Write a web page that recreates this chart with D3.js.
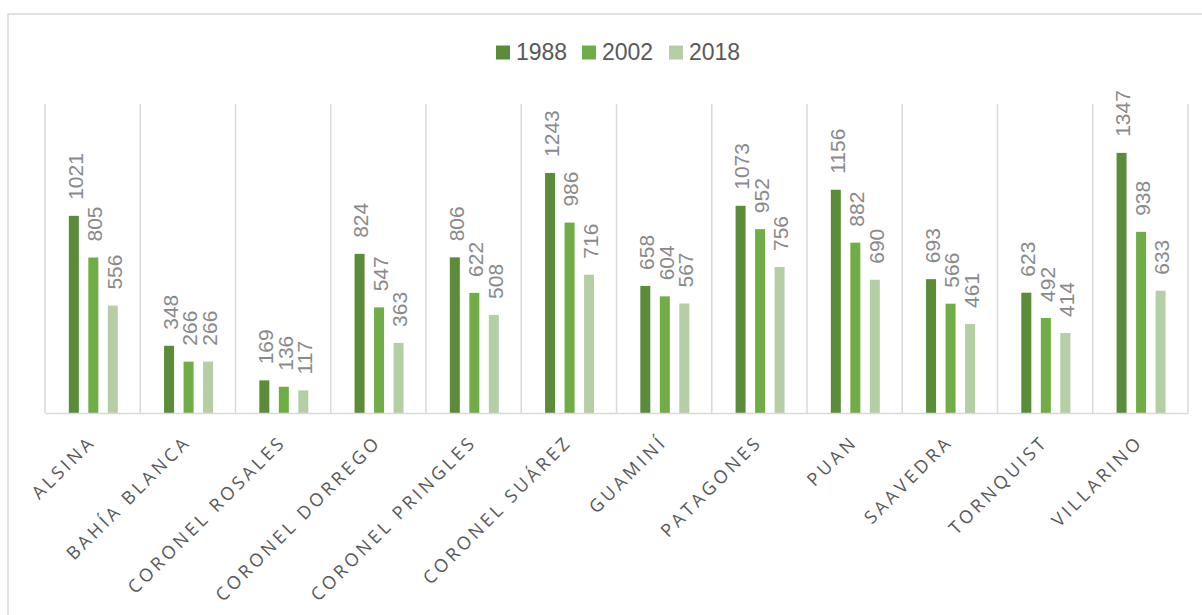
<!DOCTYPE html>
<html>
<head>
<meta charset="utf-8">
<script src="https://cdn.jsdelivr.net/npm/d3@7"></script>
<style>
  html, body { margin: 0; padding: 0; background: #fff; }
  svg { display: block; }
</style>
</head>
<body>
<svg id="chart" width="1202" height="615"></svg>
<script>
// Partidos del sudoeste bonaerense
const categories = ["ALSINA", "BAHÍA BLANCA", "CORONEL ROSALES", "CORONEL DORREGO",
  "CORONEL PRINGLES", "CORONEL SUÁREZ", "GUAMINÍ", "PATAGONES", "PUAN",
  "SAAVEDRA", "TORNQUIST", "VILLARINO"];
const years = ["1988", "2002", "2018"];
const values1988 = [1021, 348, 169, 824, 806, 1243, 658, 1073, 1156, 693, 623, 1347];
const values2002 = [805, 266, 136, 547, 622, 986, 604, 952, 882, 566, 492, 938];
const values2018 = [556, 266, 117, 363, 508, 716, 567, 756, 690, 461, 414, 633];
const colors = ["#5b8c3a", "#70ad47", "#b4cfa6"];

const series = [values1988, values2002, values2018];
const rows = categories.map((c, i) => ({
  name: c,
  bars: years.map((y, k) => ({ year: y, value: series[k][i], color: colors[k] }))
}));

const svg = d3.select("#chart");
const numFont = "'Liberation Sans Narrow', 'Liberation Sans', Arial, sans-serif";
const catFont = "'Open Sans', 'Liberation Sans', Arial, sans-serif";

// outer frame
svg.append("rect")
  .attr("x", 8).attr("y", 14).attr("width", 1220).attr("height", 640)
  .attr("fill", "none").attr("stroke", "#d9d9d9").attr("stroke-width", 1.5);

const plot = { left: 45, right: 1188, top: 104, bottom: 413 };

const x0 = d3.scaleBand().domain(categories).range([plot.left, plot.right]).padding(0);
const x1 = d3.scalePoint().domain(years).range([-19.5, 19.5]);
const y = d3.scaleLinear().domain([0, 1600]).range([plot.bottom, plot.top]);
const barW = 10;

// vertical separators between categories
const bounds = categories.map(c => x0(c)).concat([plot.right]);
svg.append("g").selectAll("line").data(bounds).join("line")
  .attr("x1", d => d).attr("x2", d => d)
  .attr("y1", plot.top).attr("y2", plot.bottom)
  .attr("stroke", "#d9d9d9").attr("stroke-width", 1.5);

// bars
const groups = svg.append("g").selectAll("g").data(rows).join("g")
  .attr("transform", d => `translate(${x0(d.name) + x0.bandwidth() / 2 + 0.7},0)`);

groups.selectAll("rect").data(d => d.bars).join("rect")
  .attr("x", d => x1(d.year) - barW / 2)
  .attr("width", barW)
  .attr("y", d => y(d.value))
  .attr("height", d => y(0) - y(d.value))
  .attr("fill", d => d.color);

// value labels, rotated
groups.selectAll("text").data(d => d.bars).join("text")
  .attr("transform", d => `translate(${x1(d.year)},${y(d.value) - 16}) rotate(-90)`)
  .attr("dy", "0.42em")
  .attr("text-anchor", "start")
  .attr("font-family", numFont)
  .attr("font-size", 21)
  .attr("fill", "#8a8a8a")
  .text(d => d.value);

// baseline axis
const xAxis = d3.axisBottom(x0).tickSize(0).tickFormat("");
const axisG = svg.append("g").attr("transform", `translate(0,${plot.bottom})`).call(xAxis);
axisG.select(".domain").attr("stroke", "#d9d9d9").attr("stroke-width", 1.5);

// category labels at -45 degrees
svg.append("g").selectAll("text").data(categories).join("text")
  .attr("transform", d => `translate(${x0(d) + x0.bandwidth() / 2 + 4},${plot.bottom + 30}) rotate(-45)`)
  .attr("text-anchor", "end")
  .attr("font-family", catFont)
  .attr("font-size", 18)
  .attr("letter-spacing", 3.4)
  .attr("fill", "#595959")
  .text(d => d);

// legend
const legendX = [496, 582, 669];
const legend = svg.append("g").selectAll("g").data(years).join("g")
  .attr("transform", (d, i) => `translate(${legendX[i]},0)`);
legend.append("rect")
  .attr("x", 0).attr("y", 45.5).attr("width", 14).attr("height", 14)
  .attr("fill", (d, i) => colors[i]);
legend.append("text")
  .attr("x", 20).attr("y", 60)
  .attr("font-family", numFont)
  .attr("font-size", 23)
  .attr("fill", "#595959")
  .text(d => d);
</script>
</body>
</html>
